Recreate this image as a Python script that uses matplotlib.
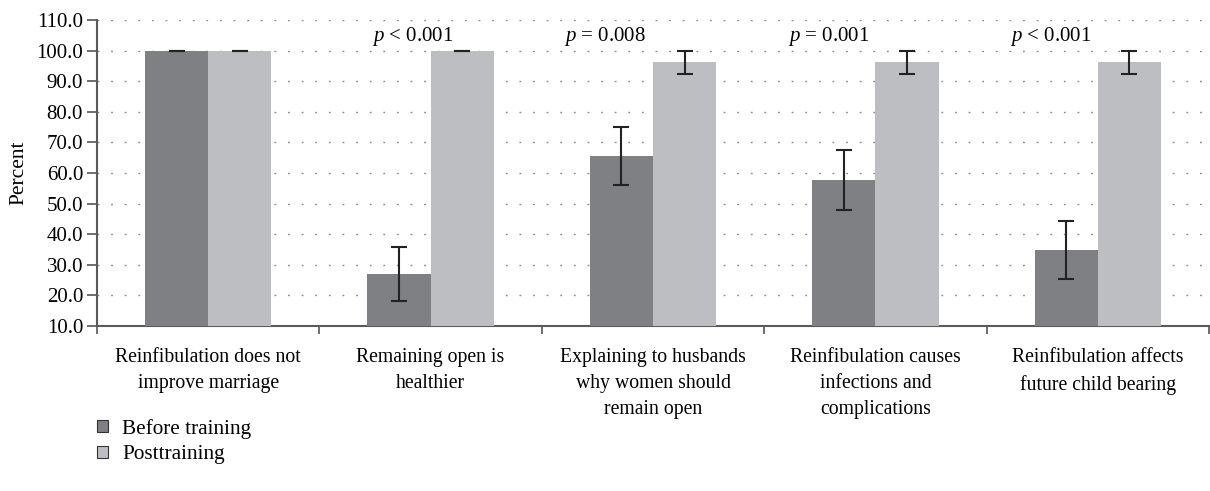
import matplotlib
matplotlib.use("Agg")
import matplotlib.pyplot as plt
from matplotlib.patches import Patch
import numpy as np

categories = [
    "Reinfibulation does not\nimprove marriage",
    "Remaining open is\nhealthier",
    "Explaining to husbands\nwhy women should\nremain open",
    "Reinfibulation causes\ninfections and\ncomplications",
    "Reinfibulation affects\nfuture child bearing",
]
before = [100.0, 27.0, 65.5, 57.7, 34.7]
before_err = [0.0, 8.9, 9.5, 9.8, 9.5]
post = [100.0, 100.0, 96.2, 96.2, 96.2]
post_err = [0.0, 0.0, 3.8, 3.8, 3.8]
pvalues = ["$p$ < 0.001", "$p$ = 0.008", "$p$ = 0.001", "$p$ < 0.001"]
p_categories = [1, 2, 3, 4]
series_names = ["Before training", "Posttraining"]
yticks = [10, 20, 30, 40, 50, 60, 70, 80, 90, 100, 110]

# layout
p_offsets = [-0.08, -0.215, -0.21, -0.21]
c_dark = "#7f8084"
c_light = "#bdbec2"

plt.rcParams["font.family"] = ["Liberation Serif", "DejaVu Serif"]
plt.rcParams["mathtext.fontset"] = "custom"
plt.rcParams["mathtext.it"] = "Liberation Serif:italic"
plt.rcParams["mathtext.rm"] = "Liberation Serif"

fig = plt.figure(figsize=(12.10, 4.91), dpi=100)
ax = fig.add_axes([97 / 1210, 1 - 326 / 491, 1112 / 1210, 306 / 491])

n = len(categories)
x = np.arange(n) + 0.5
w = 0.284
ekw = dict(ecolor="#222222", elinewidth=1.5, capsize=5.5, capthick=1.5)
ax.bar(x - w / 2, [b - 10 for b in before], w, bottom=10, color=c_dark,
       yerr=before_err, error_kw=ekw, zorder=3, label=series_names[0])
ax.bar(x + w / 2, [p - 10 for p in post], w, bottom=10, color=c_light,
       yerr=post_err, error_kw=ekw, zorder=3, label=series_names[1])

ax.set_xlim(0, n)
ax.set_ylim(10, 110)
ax.set_yticks(yticks)
ax.set_yticklabels([f"{v:.1f}" for v in yticks], fontsize=15)
ax.yaxis.grid(True, linestyle=(0, (1.3, 8.5)), linewidth=1.0, color="#8a8a8a", zorder=0)
ax.set_axisbelow(True)

ax.set_xticks(x)
ax.set_xticklabels(categories, fontsize=14.2, linespacing=1.5)
ax.tick_params(axis="x", which="major", length=0, pad=16)
ax.set_xticks(np.arange(n + 1), minor=True)
ax.tick_params(axis="x", which="minor", length=6, width=1.2, color="#555555")
ax.tick_params(axis="y", length=7, width=1.2, color="#555555", pad=3)

for s in ["top", "right"]:
    ax.spines[s].set_visible(False)
for s in ["left", "bottom"]:
    ax.spines[s].set_color("#5a5a5a")
    ax.spines[s].set_linewidth(1.5)

ax.set_ylabel("Percent", fontsize=15.5, labelpad=6)

for ci, txt, off in zip(p_categories, pvalues, p_offsets):
    ax.text(ci + 0.5 + off, 104.6, txt, ha="center", va="center", fontsize=15)

handles = [Patch(facecolor=c_dark, edgecolor="#333333", linewidth=0.8),
           Patch(facecolor=c_light, edgecolor="#333333", linewidth=0.8)]
fig.legend(handles, series_names, loc="upper left", bbox_to_anchor=(97 / 1210, 1 - 419 / 491),
           frameon=False, fontsize=15.3, handlelength=0.5, handleheight=0.5,
           handletextpad=0.7, labelspacing=0.3, borderaxespad=0, borderpad=0)

fig.savefig("out.png", dpi=100)
